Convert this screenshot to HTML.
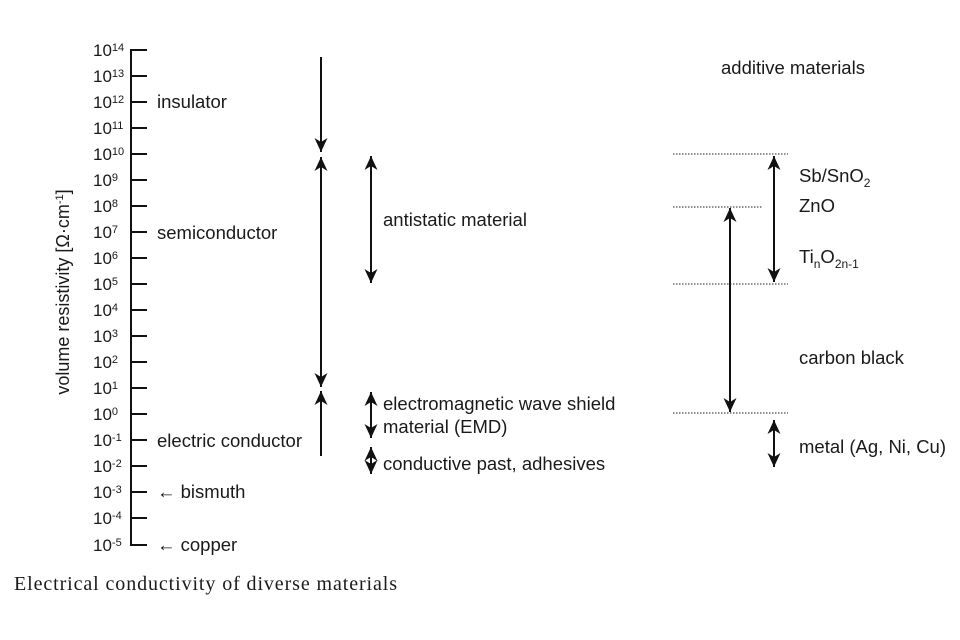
<!DOCTYPE html>
<html><head><meta charset="utf-8"><style>
html,body{margin:0;padding:0;background:#fff;}
svg{display:block;}
text{font-family:"Liberation Sans",Arial,sans-serif;fill:#1a1a1a;}
.t{font-size:17px;}
.s{font-size:11px;}
.s2{font-size:12px;}
</style></head><body>
<svg width="960" height="640" viewBox="0 0 960 640" xmlns="http://www.w3.org/2000/svg">
<defs>
<marker id="a" markerUnits="userSpaceOnUse" markerWidth="16" markerHeight="14" refX="0" refY="0" viewBox="-15 -7 16 14" orient="auto-start-reverse">
<path d="M0,0 L-14,-6.5 L-10,0 L-14,6.5 Z" fill="#111"/>
</marker>
</defs>
<g stroke="#111" stroke-width="2" fill="none">
<line x1="131" y1="49" x2="131" y2="546"/>
<path d="M130,50H147 M131,76H147 M131,102H147 M131,128H147 M131,154H147 M131,180H147 M131,206H147 M131,232H147 M131,258H147 M131,284H147 M131,310H147 M131,336H147 M131,362H147 M131,388H147 M131,414H147 M131,440H147 M131,466H147 M131,492H147 M131,518H147 M130,545H147"/>
<line x1="321" y1="57" x2="321" y2="152" marker-end="url(#a)"/>
<line x1="321" y1="157" x2="321" y2="387" marker-start="url(#a)" marker-end="url(#a)"/>
<line x1="321" y1="456" x2="321" y2="391" marker-end="url(#a)"/>
<line x1="371" y1="156" x2="371" y2="283" marker-start="url(#a)" marker-end="url(#a)"/>
<line x1="371" y1="392" x2="371" y2="438" marker-start="url(#a)" marker-end="url(#a)"/>
<line x1="371" y1="447" x2="371" y2="474" marker-start="url(#a)" marker-end="url(#a)"/>
<line x1="774" y1="156" x2="774" y2="282" marker-start="url(#a)" marker-end="url(#a)"/>
<line x1="730" y1="208" x2="730" y2="412" marker-start="url(#a)" marker-end="url(#a)"/>
<line x1="774" y1="420" x2="774" y2="467" marker-start="url(#a)" marker-end="url(#a)"/>
</g>
<g stroke="#222" stroke-width="1" stroke-dasharray="1.5,1.5">
<line x1="673" y1="154" x2="788" y2="154"/>
<line x1="673" y1="207" x2="763" y2="207"/>
<line x1="673" y1="284" x2="788" y2="284"/>
<line x1="673" y1="413" x2="788" y2="413"/>
</g>
<g class="t">
<text x="93" y="56">10<tspan class="s" dy="-5">14</tspan></text>
<text x="93" y="82">10<tspan class="s" dy="-5">13</tspan></text>
<text x="93" y="108">10<tspan class="s" dy="-5">12</tspan></text>
<text x="93" y="134">10<tspan class="s" dy="-5">11</tspan></text>
<text x="93" y="160">10<tspan class="s" dy="-5">10</tspan></text>
<text x="93" y="186">10<tspan class="s" dy="-5">9</tspan></text>
<text x="93" y="212">10<tspan class="s" dy="-5">8</tspan></text>
<text x="93" y="238">10<tspan class="s" dy="-5">7</tspan></text>
<text x="93" y="264">10<tspan class="s" dy="-5">6</tspan></text>
<text x="93" y="290">10<tspan class="s" dy="-5">5</tspan></text>
<text x="93" y="316">10<tspan class="s" dy="-5">4</tspan></text>
<text x="93" y="342">10<tspan class="s" dy="-5">3</tspan></text>
<text x="93" y="368">10<tspan class="s" dy="-5">2</tspan></text>
<text x="93" y="394">10<tspan class="s" dy="-5">1</tspan></text>
<text x="93" y="420">10<tspan class="s" dy="-5">0</tspan></text>
<text x="93" y="446">10<tspan class="s" dy="-5">-1</tspan></text>
<text x="93" y="472">10<tspan class="s" dy="-5">-2</tspan></text>
<text x="93" y="498">10<tspan class="s" dy="-5">-3</tspan></text>
<text x="93" y="524">10<tspan class="s" dy="-5">-4</tspan></text>
<text x="93" y="551">10<tspan class="s" dy="-5">-5</tspan></text>
</g>
<text transform="translate(69,292) rotate(-90)" text-anchor="middle" style="font-size:18px">volume resistivity [Ω·cm<tspan class="s" dy="-6">-1</tspan><tspan dy="6">]</tspan></text>
<g style="font-size:18.5px">
<text x="157" y="108">insulator</text>
<text x="157" y="239">semiconductor</text>
<text x="157" y="447">electric conductor</text>
<text x="157" y="498">← bismuth</text>
<text x="157" y="551">← copper</text>
<text x="383" y="226">antistatic material</text>
<text x="383" y="410">electromagnetic wave shield</text>
<text x="383" y="433">material (EMD)</text>
<text x="383" y="470">conductive past, adhesives</text>
<text x="721" y="74">additive materials</text>
<text x="799" y="182">Sb/SnO<tspan class="s2" dy="5">2</tspan></text>
<text x="799" y="212">ZnO</text>
<text x="799" y="263">Ti<tspan class="s2" dy="5">n</tspan><tspan dy="-5">O</tspan><tspan class="s2" dy="5">2n-1</tspan></text>
<text x="799" y="364">carbon black</text>
<text x="799" y="453">metal (Ag, Ni, Cu)</text>
</g>
<text x="14" y="590" style="font-family:'Liberation Serif',serif;font-size:20px;letter-spacing:0.9px;">Electrical conductivity of diverse materials</text>
</svg>
</body></html>
